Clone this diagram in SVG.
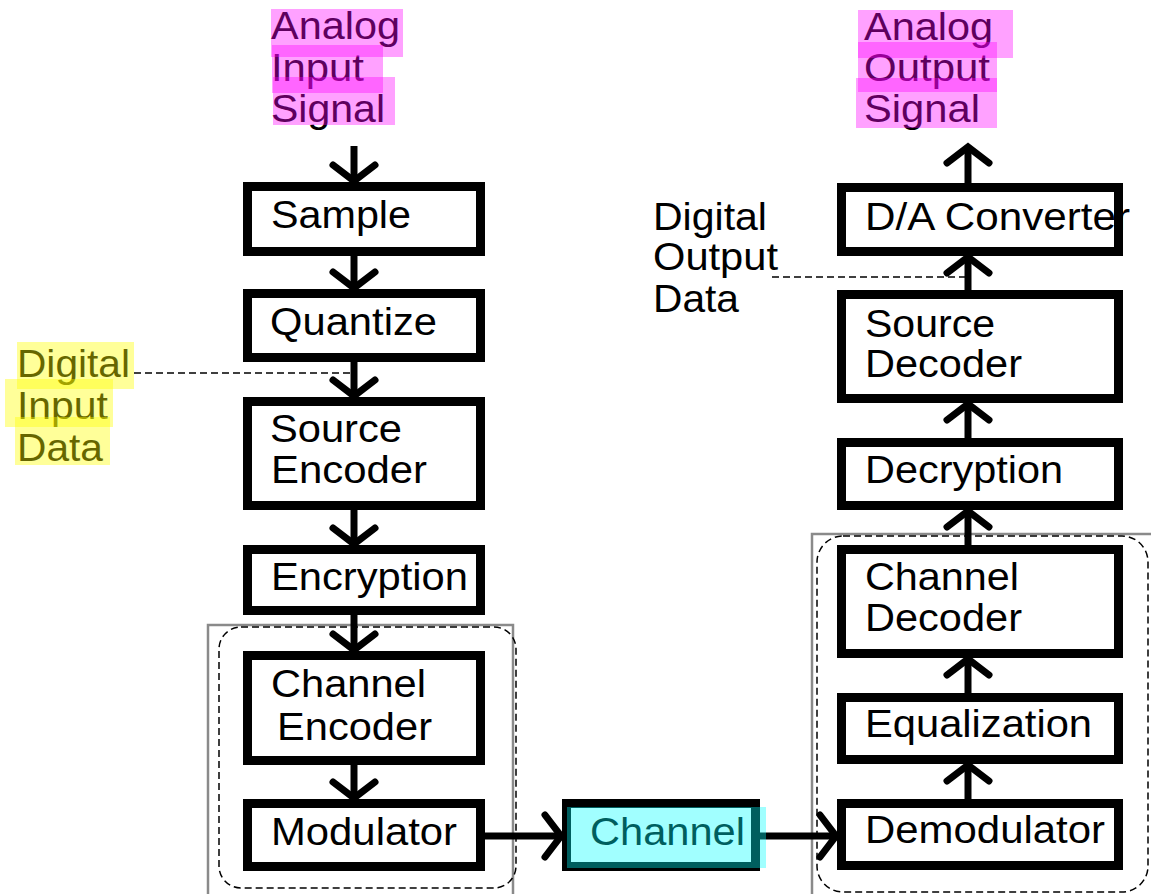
<svg xmlns="http://www.w3.org/2000/svg" width="1151" height="894" viewBox="0 0 1151 894">
  <style>
    .box { fill: #ffffff; stroke: #000000; stroke-width: 9; }
    .lbl { font-family: "Liberation Sans", Arial, sans-serif; font-size: 38px; fill: #000000; }
    .flow { stroke: #000000; stroke-width: 7; fill: none; marker-end: url(#chev); }
    .dash { stroke: #000000; stroke-width: 1.5; stroke-dasharray: 7 4; fill: none; }
    .frame { stroke: #8a8a8a; stroke-width: 2.5; fill: none; }
    .hl-m { fill: #ff00ff; fill-opacity: 0.37; }
    .hl-y { fill: #ffff00; fill-opacity: 0.4; }
    .hl-c { fill: #00ffff; fill-opacity: 0.37; }
  </style>
  <defs>
    <marker id="chev" viewBox="-30 -30 40 60" markerWidth="40" markerHeight="60" refX="0" refY="0" orient="auto" markerUnits="userSpaceOnUse">
      <path d="M -17 -21 L -1 0 L -17 21" fill="none" stroke="#000000" stroke-width="7" stroke-linecap="round" stroke-linejoin="miter"/>
    </marker>
  </defs>

  <!-- grouping frames -->
  <g id="groups">
    <rect class="frame" x="208" y="625" width="305" height="280"/>
    <rect class="dash" x="219" y="627" width="297" height="261" rx="22"/>
    <rect class="frame" x="812" y="534" width="360" height="380"/>
    <rect class="dash" x="817" y="536" width="331" height="356" rx="26"/>
  </g>

  <!-- connectors -->
  <g id="connectors">
    <path class="flow" d="M 354 146 L 354 182"/>
    <path class="flow" d="M 354 256 L 354 289"/>
    <path class="flow" d="M 354 362 L 354 397"/>
    <path class="flow" d="M 354 510 L 354 545"/>
    <path class="flow" d="M 354 615 L 354 651"/>
    <path class="flow" d="M 354 765 L 354 799"/>
    <path class="flow" d="M 485 836 L 562 836"/>
    <path class="flow" d="M 760 836 L 837 836"/>
    <path class="flow" d="M 968 799 L 968 764"/>
    <path class="flow" d="M 968 693 L 968 658"/>
    <path class="flow" d="M 968 545 L 968 510"/>
    <path class="flow" d="M 968 438 L 968 403"/>
    <path class="flow" d="M 968 290 L 968 256"/>
    <path class="flow" d="M 968 183 L 968 146"/>
    <path class="dash" d="M 134 373 L 351 373"/>
    <path class="dash" d="M 772 277 L 966 277"/>
  </g>

  <!-- transmitter chain -->
  <g id="sample">
    <rect class="box" x="247.5" y="186.5" width="233" height="65"/>
    <text class="lbl" x="271" y="228" textLength="140" lengthAdjust="spacingAndGlyphs">Sample</text>
  </g>
  <g id="quantize">
    <rect class="box" x="247.5" y="293.5" width="233" height="64"/>
    <text class="lbl" x="270" y="335" textLength="167" lengthAdjust="spacingAndGlyphs">Quantize</text>
  </g>
  <g id="source-encoder">
    <rect class="box" x="247.5" y="401.5" width="233" height="104"/>
    <text class="lbl" x="270" y="442" textLength="132" lengthAdjust="spacingAndGlyphs">Source</text>
    <text class="lbl" x="271" y="483" textLength="156" lengthAdjust="spacingAndGlyphs">Encoder</text>
  </g>
  <g id="encryption">
    <rect class="box" x="247.5" y="549.5" width="233" height="61"/>
    <text class="lbl" x="271" y="590" textLength="197" lengthAdjust="spacingAndGlyphs">Encryption</text>
  </g>
  <g id="channel-encoder">
    <rect class="box" x="247.5" y="655.5" width="233" height="105"/>
    <text class="lbl" x="271" y="697" textLength="155" lengthAdjust="spacingAndGlyphs">Channel</text>
    <text class="lbl" x="277" y="740" textLength="155" lengthAdjust="spacingAndGlyphs">Encoder</text>
  </g>
  <g id="modulator">
    <rect class="box" x="247.5" y="803.5" width="233" height="63"/>
    <text class="lbl" x="271" y="845" textLength="186" lengthAdjust="spacingAndGlyphs">Modulator</text>
  </g>

  <!-- channel -->
  <g id="channel">
    <rect class="box" x="566.5" y="803.5" width="189" height="63"/>
    <text class="lbl" x="590" y="845" textLength="155" lengthAdjust="spacingAndGlyphs">Channel</text>
    <rect class="hl-c" x="567" y="807" width="199" height="61"/>
  </g>

  <!-- receiver chain -->
  <g id="demodulator">
    <rect class="box" x="841.5" y="803.5" width="277" height="62"/>
    <text class="lbl" x="865" y="843" textLength="240" lengthAdjust="spacingAndGlyphs">Demodulator</text>
  </g>
  <g id="equalization">
    <rect class="box" x="841.5" y="697.5" width="277" height="62"/>
    <text class="lbl" x="865" y="737" textLength="227" lengthAdjust="spacingAndGlyphs">Equalization</text>
  </g>
  <g id="channel-decoder">
    <rect class="box" x="841.5" y="549.5" width="277" height="104"/>
    <text class="lbl" x="865" y="590" textLength="154" lengthAdjust="spacingAndGlyphs">Channel</text>
    <text class="lbl" x="865" y="631" textLength="157" lengthAdjust="spacingAndGlyphs">Decoder</text>
  </g>
  <g id="decryption">
    <rect class="box" x="841.5" y="442.5" width="277" height="63"/>
    <text class="lbl" x="865" y="483" textLength="198" lengthAdjust="spacingAndGlyphs">Decryption</text>
  </g>
  <g id="source-decoder">
    <rect class="box" x="841.5" y="294.5" width="277" height="104"/>
    <text class="lbl" x="865" y="337" textLength="130" lengthAdjust="spacingAndGlyphs">Source</text>
    <text class="lbl" x="865" y="377" textLength="157" lengthAdjust="spacingAndGlyphs">Decoder</text>
  </g>
  <g id="da-converter">
    <rect class="box" x="841.5" y="187.5" width="277" height="64"/>
    <text class="lbl" x="865" y="230" textLength="265" lengthAdjust="spacingAndGlyphs">D/A Converter</text>
  </g>

  <!-- signal labels -->
  <g id="analog-input">
    <text class="lbl" x="271" y="39" textLength="129" lengthAdjust="spacingAndGlyphs">Analog</text>
    <text class="lbl" x="271" y="81" textLength="93" lengthAdjust="spacingAndGlyphs">Input</text>
    <text class="lbl" x="271" y="122" textLength="114" lengthAdjust="spacingAndGlyphs">Signal</text>
    <rect class="hl-m" x="271" y="9" width="132" height="48"/>
    <rect class="hl-m" x="272" y="45" width="111" height="48"/>
    <rect class="hl-m" x="273" y="77" width="122" height="48"/>
  </g>
  <g id="analog-output">
    <text class="lbl" x="864" y="40" textLength="129" lengthAdjust="spacingAndGlyphs">Analog</text>
    <text class="lbl" x="864" y="81" textLength="126" lengthAdjust="spacingAndGlyphs">Output</text>
    <text class="lbl" x="864" y="122" textLength="116" lengthAdjust="spacingAndGlyphs">Signal</text>
    <rect class="hl-m" x="858" y="10" width="155" height="48"/>
    <rect class="hl-m" x="858" y="42" width="139" height="50"/>
    <rect class="hl-m" x="856" y="78" width="141" height="50"/>
  </g>
  <g id="digital-input">
    <text class="lbl" x="17" y="377" textLength="113" lengthAdjust="spacingAndGlyphs">Digital</text>
    <text class="lbl" x="17" y="419" textLength="91" lengthAdjust="spacingAndGlyphs">Input</text>
    <text class="lbl" x="17" y="461" textLength="86" lengthAdjust="spacingAndGlyphs">Data</text>
    <rect class="hl-y" x="17" y="342" width="117" height="47"/>
    <rect class="hl-y" x="5" y="379" width="108" height="48"/>
    <rect class="hl-y" x="15" y="417" width="95" height="48"/>
  </g>
  <g id="digital-output">
    <text class="lbl" x="653" y="230" textLength="114" lengthAdjust="spacingAndGlyphs">Digital</text>
    <text class="lbl" x="653" y="270" textLength="125" lengthAdjust="spacingAndGlyphs">Output</text>
    <text class="lbl" x="653" y="312" textLength="86" lengthAdjust="spacingAndGlyphs">Data</text>
  </g>
</svg>
